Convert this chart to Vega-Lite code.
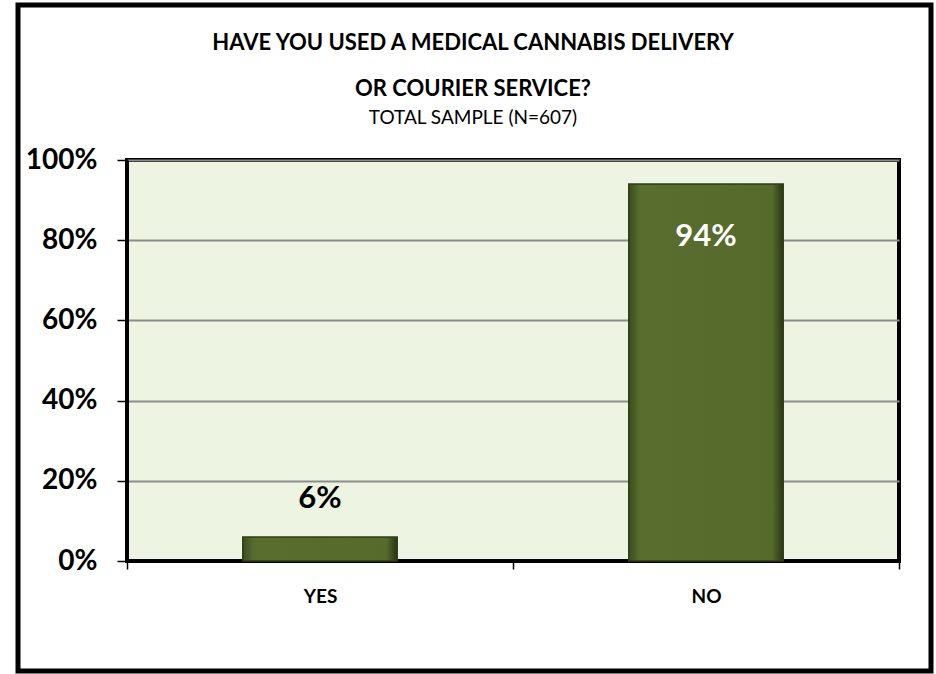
{
  "$schema": "https://vega.github.io/schema/vega-lite/v6.json",
  "autosize": {"type": "none"},
  "width": 772,
  "height": 401,
  "padding": {"left": 127, "top": 160, "right": 37, "bottom": 113},
  "background": "white",
  "title": {
    "text": ["HAVE YOU USED A MEDICAL CANNABIS DELIVERY", "OR COURIER SERVICE?"],
    "subtitle": "TOTAL SAMPLE (N=607)",
    "font": "Lato",
    "fontSize": 22,
    "fontWeight": "bold",
    "lineHeight": 46,
    "subtitleFont": "Lato",
    "subtitleFontSize": 19,
    "subtitleFontWeight": "normal",
    "subtitlePadding": 8,
    "anchor": "middle",
    "dx": -40,
    "offset": -126,
    "color": "black",
    "subtitleColor": "black"
  },
  "data": {
    "values": [
      {"answer": "YES", "share": 0.06, "label": "6%"},
      {"answer": "NO", "share": 0.94, "label": "94%"}
    ]
  },
  "encoding": {
    "x": {
      "field": "answer",
      "type": "nominal",
      "sort": ["YES", "NO"],
      "scale": {"paddingInner": 0, "paddingOuter": 0},
      "axis": {
        "title": null,
        "labelAngle": 0,
        "labelFont": "Lato",
        "labelFontSize": 19,
        "labelFontWeight": "bold",
        "labelColor": "black",
        "labelPadding": 18,
        "tickBand": "extent",
        "tickSize": 8,
        "tickColor": "black",
        "tickWidth": 1.5,
        "domainColor": "black",
        "domainWidth": 3
      }
    }
  },
  "layer": [
    {
      "mark": {"type": "rect", "stroke": "black", "strokeWidth": 5, "fill": null, "clip": false},
      "data": {"values": [{"frame": 1}]},
      "encoding": {
        "x": {"value": -109},
        "x2": {"value": 804},
        "y": {"value": -155},
        "y2": {"value": 511}
      }
    },
    {
      "mark": {
        "type": "bar",
        "width": {"band": 0.4},
        "stroke": "#2f3b16",
        "strokeWidth": 1.5,
        "color": {
          "gradient": "linear",
          "x1": 0, "y1": 0, "x2": 1, "y2": 0,
          "stops": [
            {"offset": 0, "color": "#3d4c1e"},
            {"offset": 0.07, "color": "#586d2e"},
            {"offset": 0.93, "color": "#566a2c"},
            {"offset": 1, "color": "#2a3513"}
          ]
        }
      },
      "encoding": {
        "y": {
          "field": "share",
          "type": "quantitative",
          "scale": {"domain": [0, 1]},
          "axis": {
            "title": null,
            "format": ".0%",
            "values": [0, 0.2, 0.4, 0.6, 0.8, 1],
            "labelFont": "Lato",
            "labelFontSize": 28,
            "labelFontWeight": "bold",
            "labelColor": "black",
            "labelPadding": 20,
            "tickSize": 10,
            "tickColor": "black",
            "tickWidth": 1.5,
            "domainColor": "black",
            "domainWidth": 3,
            "grid": true,
            "gridColor": "#8c8c8c",
            "gridWidth": 2
          }
        }
      }
    },
    {
      "transform": [{"filter": "datum.share < 0.5"}],
      "mark": {"type": "text", "fontSize": 31, "fontWeight": "bold", "font": "Lato", "color": "black", "dy": -38},
      "encoding": {
        "y": {"field": "share", "type": "quantitative"},
        "text": {"field": "label"}
      }
    },
    {
      "transform": [{"filter": "datum.share >= 0.5"}],
      "mark": {"type": "text", "fontSize": 31, "fontWeight": "bold", "font": "Lato", "color": "white", "dy": 53},
      "encoding": {
        "y": {"field": "share", "type": "quantitative"},
        "text": {"field": "label"}
      }
    }
  ],
  "config": {
    "view": {"stroke": "black", "strokeWidth": 4, "fill": "#eef4e2"}
  }
}
